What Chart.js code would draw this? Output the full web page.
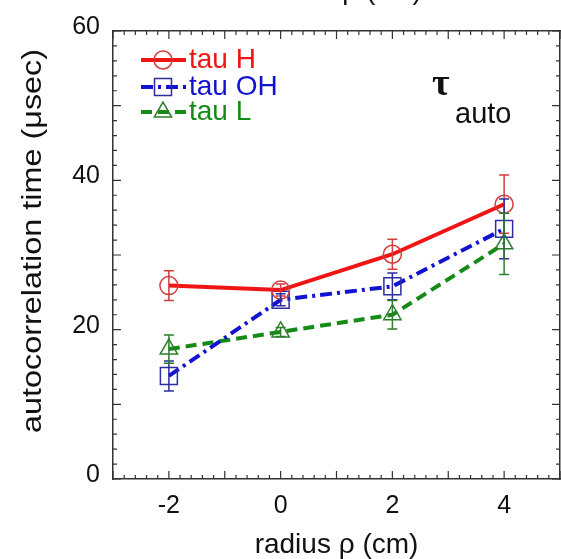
<!DOCTYPE html>
<html>
<head>
<meta charset="utf-8">
<script src="https://cdn.jsdelivr.net/npm/chart.js@4.4.1/dist/chart.umd.min.js"></script>
<style>
  html, body { margin: 0; padding: 0; background: #fff; overflow: hidden; }
  #wrap { width: 561px; height: 559px; }
</style>
</head>
<body>
<div id="wrap"><canvas id="autoChart" width="561" height="559"></canvas></div>
<script>
// values
const radius = [-2, 0, 2, 4];
const tauH = [25.9, 25.3, 30.1, 36.8];
const tauHErr = [2.0, 0.8, 2.0, 3.9];
const tauOH = [13.8, 24.0, 25.8, 33.5];
const tauOHErr = [2.0, 0.8, 1.8, 4.0];
const tauL = [17.4, 19.7, 22.0, 31.5];
const tauLErr = [1.9, 0.6, 1.9, 4.1];
const seriesNames = ['tau H', 'tau OH', 'tau L'];
const xTickLabels = [-2, 0, 2, 4];
const yTickLabels = [0, 20, 40, 60];
const xTitle = 'radius \u03c1 (cm)';
const yTitle = 'autocorrelation time (\u03bcsec)';

const axisColor = '#333';
const font = '"Liberation Sans", Arial, Helvetica, sans-serif';

function pts(ys) {
  return radius.map((x, i) => ({ x: x, y: ys[i] }));
}

// error bars, caps
const errorBars = {
  id: 'errorBars',
  afterDatasetsDraw(chart) {
    const ctx = chart.ctx;
    const xs = chart.scales.x, ys = chart.scales.y;
    chart.data.datasets.forEach(ds => {
      ctx.save();
      ctx.strokeStyle = ds.pointBorderColor;
      ctx.lineWidth = 1.5;
      ds.data.forEach((p, i) => {
        const e = ds.errors[i];
        const px = xs.getPixelForValue(p.x);
        const top = ys.getPixelForValue(p.y + e);
        const bot = ys.getPixelForValue(p.y - e);
        ctx.beginPath();
        ctx.moveTo(px, top); ctx.lineTo(px, bot);
        ctx.moveTo(px - 5, top); ctx.lineTo(px + 5, top);
        ctx.moveTo(px - 5, bot); ctx.lineTo(px + 5, bot);
        ctx.stroke();
      });
      ctx.restore();
    });
  }
};

// inward ticks on all four sides, titles, legend, label
const decor = {
  id: 'decor',
  afterDraw(chart) {
    const ctx = chart.ctx;
    const a = chart.chartArea;
    const xs = chart.scales.x, ys = chart.scales.y;
    ctx.save();
    ctx.strokeStyle = axisColor;
    ctx.lineWidth = 1.2;
    ctx.beginPath();
    for (let k = -15; k <= 25; k++) {
      const v = k / 5;
      const px = xs.getPixelForValue(v);
      const len = (k % 5 === 0) ? 8 : 4;
      ctx.moveTo(px, a.bottom); ctx.lineTo(px, a.bottom - len);
      ctx.moveTo(px, a.top); ctx.lineTo(px, a.top + len);
    }
    for (let v = 0; v <= 60; v += 2) {
      const py = ys.getPixelForValue(v);
      const len = (v % 10 === 0) ? 8 : 4;
      ctx.moveTo(a.left, py); ctx.lineTo(a.left + len, py);
      ctx.moveTo(a.right, py); ctx.lineTo(a.right - len, py);
    }
    ctx.stroke();

    // y title, stretched a bit along the text like the original
    ctx.fillStyle = '#111';
    ctx.save();
    ctx.translate(34, 241);
    ctx.rotate(-Math.PI / 2);
    ctx.scale(1.2, 1);
    ctx.font = '27px ' + font;
    ctx.textAlign = 'center';
    ctx.textBaseline = 'middle';
    ctx.fillText(yTitle, 0, 0);
    ctx.restore();

    // bottom of the x title of the panel above
    ctx.font = '28px ' + font;
    ctx.textAlign = 'center';
    ctx.textBaseline = 'alphabetic';
    ctx.fillText(xTitle, 340, -1);

    // tau_auto
    ctx.textAlign = 'left';
    ctx.font = 'bold 38px "Liberation Serif", "DejaVu Serif", serif';
    ctx.fillText('\u03c4', 432, 95);
    ctx.font = '29px ' + font;
    ctx.fillText('auto', 455, 123);

    // legend
    const rows = [60, 87, 112];
    chart.data.datasets.forEach((ds, i) => {
      const y = rows[i];
      ctx.save();
      ctx.strokeStyle = ds.borderColor;
      ctx.lineWidth = ds.borderWidth;
      ctx.setLineDash(ds.borderDash || []);
      ctx.beginPath();
      ctx.moveTo(141, y); ctx.lineTo(186, y);
      ctx.stroke();
      ctx.restore();
      ctx.save();
      ctx.strokeStyle = ds.pointBorderColor;
      ctx.fillStyle = 'rgba(0,0,0,0)';
      ctx.lineWidth = ds.pointBorderWidth;
      Chart.helpers.drawPoint(ctx, { pointStyle: ds.pointStyle, radius: ds.pointRadius, rotation: 0, borderWidth: ds.pointBorderWidth }, 163, y);
      ctx.restore();
      ctx.fillStyle = ds.borderColor;
      ctx.font = '28px ' + font;
      ctx.textBaseline = 'middle';
      ctx.fillText(ds.label, 189, y);
    });
    ctx.restore();
  }
};

const ctx = document.getElementById('autoChart').getContext('2d');
new Chart(ctx, {
  type: 'line',
  data: {
    datasets: [
      {
        label: seriesNames[0],
        data: pts(tauH),
        errors: tauHErr,
        borderColor: '#f01414',
        borderWidth: 4,
        pointStyle: 'circle',
        pointRadius: 9,
        pointBorderColor: '#d43c3c',
        pointBackgroundColor: 'rgba(0,0,0,0)',
        pointBorderWidth: 1.5
      },
      {
        label: seriesNames[1],
        data: pts(tauOH),
        errors: tauOHErr,
        borderColor: '#1212d2',
        borderWidth: 4,
        borderDash: [12, 5, 3, 5],
        pointStyle: 'rect',
        pointRadius: 12,
        pointBorderColor: '#2d2da0',
        pointBackgroundColor: 'rgba(0,0,0,0)',
        pointBorderWidth: 1.5
      },
      {
        label: seriesNames[2],
        data: pts(tauL),
        errors: tauLErr,
        borderColor: '#168a16',
        borderWidth: 4,
        borderDash: [11, 6],
        pointStyle: 'triangle',
        pointRadius: 10,
        pointBorderColor: '#2d7f2d',
        pointBackgroundColor: 'rgba(0,0,0,0)',
        pointBorderWidth: 1.5
      }
    ]
  },
  options: {
    responsive: false,
    animation: false,
    layout: { padding: 0, autoPadding: false },
    plugins: { legend: { display: false }, tooltip: { enabled: false } },
    scales: {
      x: {
        type: 'linear', position: 'bottom', min: -3, max: 5,
        afterBuildTicks: s => { s.ticks = xTickLabels.map(v => ({ value: v })); },
        afterFit: s => { s.height = 80; s.paddingLeft = 0; s.paddingRight = 0; },
        grid: { display: false, drawTicks: false },
        border: { display: true, color: axisColor, width: 1.5 },
        ticks: { color: '#111', padding: 12, font: { family: font, size: 25 } },
        title: { display: true, text: xTitle, color: '#111', padding: 0, font: { family: font, size: 28, lineHeight: 1.0 } }
      },
      y: {
        type: 'linear', position: 'left', min: 0, max: 60,
        afterBuildTicks: s => { s.ticks = yTickLabels.map(v => ({ value: v })); },
        afterFit: s => { s.width = 113; s.paddingTop = 0; s.paddingBottom = 0; },
        grid: { display: false, drawTicks: false },
        border: { display: true, color: axisColor, width: 1.5 },
        ticks: { color: '#111', padding: 13, labelOffset: -4, font: { family: font, size: 25 } }
      },
      x2: {
        type: 'linear', position: 'top', min: -3, max: 5,
        afterFit: s => { s.height = 31; s.paddingLeft = 0; s.paddingRight = 0; },
        grid: { display: false, drawTicks: false },
        border: { display: true, color: axisColor, width: 1.5 },
        ticks: { display: false }
      },
      y2: {
        type: 'linear', position: 'right', min: 0, max: 60,
        afterFit: s => { s.width = 1; s.paddingTop = 0; s.paddingBottom = 0; },
        grid: { display: false, drawTicks: false },
        border: { display: true, color: axisColor, width: 1.5 },
        ticks: { display: false }
      }
    }
  },
  plugins: [errorBars, decor]
});
</script>
</body>
</html>
